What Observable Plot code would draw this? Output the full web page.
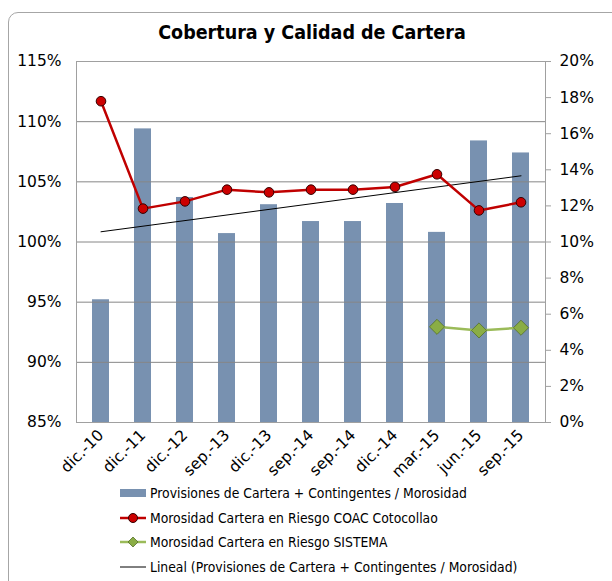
<!DOCTYPE html>
<html><head><meta charset="utf-8">
<script src="https://cdn.jsdelivr.net/npm/d3@7"></script>
<script src="https://cdn.jsdelivr.net/npm/@observablehq/plot@0.6"></script>
<style>
body{margin:0;background:#fff;font-family:"DejaVu Sans",sans-serif;}
#wrap{position:relative;width:612px;height:581px;overflow:hidden;background:#fff;}
#frame{position:absolute;left:8px;top:12px;width:640px;height:620px;border:1px solid #a6a6a6;border-radius:10px;box-sizing:border-box;}
#title{position:absolute;top:21px;left:0;width:624px;text-align:center;font-weight:bold;font-size:19.5px;font-family:"DejaVu Sans Condensed","DejaVu Sans",sans-serif;color:#000;}
#chart{position:absolute;left:0;top:0;}
#legend{position:absolute;left:0;top:478px;}
</style></head>
<body><div id="wrap"><div id="frame"></div><div id="title">Cobertura y Calidad de Cartera</div><div id="chart"></div><svg id="legend" width="612" height="103"></svg></div>
<script>
const categories = ["dic.-10","dic.-11","dic.-12","sep.-13","dic.-13","sep.-14","sep.-14","dic.-14","mar.-15","jun.-15","sep.-15"];
const provisiones = [95.2,109.4,103.7,100.7,103.1,101.7,101.7,103.2,100.8,108.4,107.4];
const morosidadCoac = [17.8,11.85,12.25,12.9,12.75,12.9,12.9,13.05,13.75,11.75,12.2];
const morosidadSistema = [null,null,null,null,null,null,null,null,5.3,5.1,5.25];
const trendIdx = [0,10];
const trendVals = [100.85,105.5];
const leftTicks = [85,90,95,100,105,110,115];
const rightTicks = [0,2,4,6,8,10,12,14,16,18,20];
const seriesNames = ["Provisiones de Cartera + Contingentes / Morosidad","Morosidad Cartera en Riesgo COAC Cotocollao","Morosidad Cartera en Riesgo SISTEMA","Lineal (Provisiones de Cartera + Contingentes / Morosidad)"];

const toLeft = v => 85 + v * 1.5; // right-axis percent -> left-axis scale
const idx = categories.map((c,i)=>i);
const bars = idx.map(i=>({i, v:provisiones[i]}));
const coac = idx.map(i=>({i, v:morosidadCoac[i]}));
const sis = idx.filter(i=>morosidadSistema[i]!=null).map(i=>({i, v:morosidadSistema[i]}));
const trend = trendIdx.map((i,k)=>({i, v:trendVals[k]}));

const chart = Plot.plot({
  width:612, height:581,
  marginTop:61, marginBottom:159, marginLeft:76, marginRight:67,
  style:{fontFamily:'"DejaVu Sans",sans-serif', fontSize:"15.5px", color:"#000", background:"transparent", overflow:"visible"},
  x:{type:"band", domain:idx, paddingInner:0.6, paddingOuter:0.3, align:0.5},
  y:{domain:[85,115]},
  marks:[
    Plot.barY(bars,{x:"i", y1:()=>85, y2:"v", fill:"#7891b0"}),
    Plot.gridY(leftTicks.slice(1,-1),{stroke:"#868686", strokeOpacity:1, strokeWidth:1}),
    Plot.frame({stroke:"#a0a0a0", strokeWidth:1}),
    Plot.axisY({anchor:"left", ticks:leftTicks, tickFormat:d=>d+"%", tickSize:0, tickPadding:15, label:null, fontSize:15.5}),
    Plot.axisY({anchor:"right", ticks:rightTicks.map(toLeft), tickFormat:d=>Math.round((d-85)/1.5)+"%", tickSize:5, tickPadding:9, label:null, stroke:"#a0a0a0", fontSize:15.5}),
    Plot.axisX({tickFormat:i=>categories[i], tickRotate:-45, tickSize:0, tickPadding:10, label:null, fontSize:15.5}),
    Plot.line(trend,{x:"i", y:"v", stroke:"#000", strokeWidth:1}),
    Plot.line(coac,{x:"i", y:d=>toLeft(d.v), stroke:"#c00000", strokeWidth:2.5}),
    Plot.dot(coac,{x:"i", y:d=>toLeft(d.v), r:4.8, fill:"#cc0000", stroke:"#300", strokeWidth:1}),
    Plot.line(sis,{x:"i", y:d=>toLeft(d.v), stroke:"#9bbb59", strokeWidth:2.5}),
    Plot.dot(sis,{x:"i", y:d=>toLeft(d.v), r:6.8, symbol:"diamond2", fill:"#8aad45", stroke:"#56702a", strokeWidth:0.8})
  ]
});
document.getElementById("chart").appendChild(chart);

// legend
const lg = d3.select("#legend");
const rowsY = [15,40,64,89];
const lf = 'font-family:"DejaVu Sans Condensed","DejaVu Sans",sans-serif;font-size:13.8px';
lg.append("rect").attr("x",120).attr("y",rowsY[0]-4).attr("width",26).attr("height",8).attr("fill","#7891b0");
lg.append("line").attr("x1",120).attr("x2",146).attr("y1",rowsY[1]).attr("y2",rowsY[1]).attr("stroke","#c00000").attr("stroke-width",2.5);
lg.append("circle").attr("cx",133).attr("cy",rowsY[1]).attr("r",4.5).attr("fill","#cc0000").attr("stroke","#300");
lg.append("line").attr("x1",120).attr("x2",146).attr("y1",rowsY[2]).attr("y2",rowsY[2]).attr("stroke","#9bbb59").attr("stroke-width",2.5);
lg.append("path").attr("d",`M133,${rowsY[2]-5}L138,${rowsY[2]}L133,${rowsY[2]+5}L128,${rowsY[2]}Z`).attr("fill","#8aad45").attr("stroke","#56702a").attr("stroke-width",0.8);
lg.append("line").attr("x1",120).attr("x2",146).attr("y1",rowsY[3]).attr("y2",rowsY[3]).attr("stroke","#000").attr("stroke-width",1);
seriesNames.forEach((n,k)=>{
  lg.append("text").attr("x",150).attr("y",rowsY[k]).attr("dy","0.35em").attr("style",lf).text(n);
});
</script>
</body></html>
